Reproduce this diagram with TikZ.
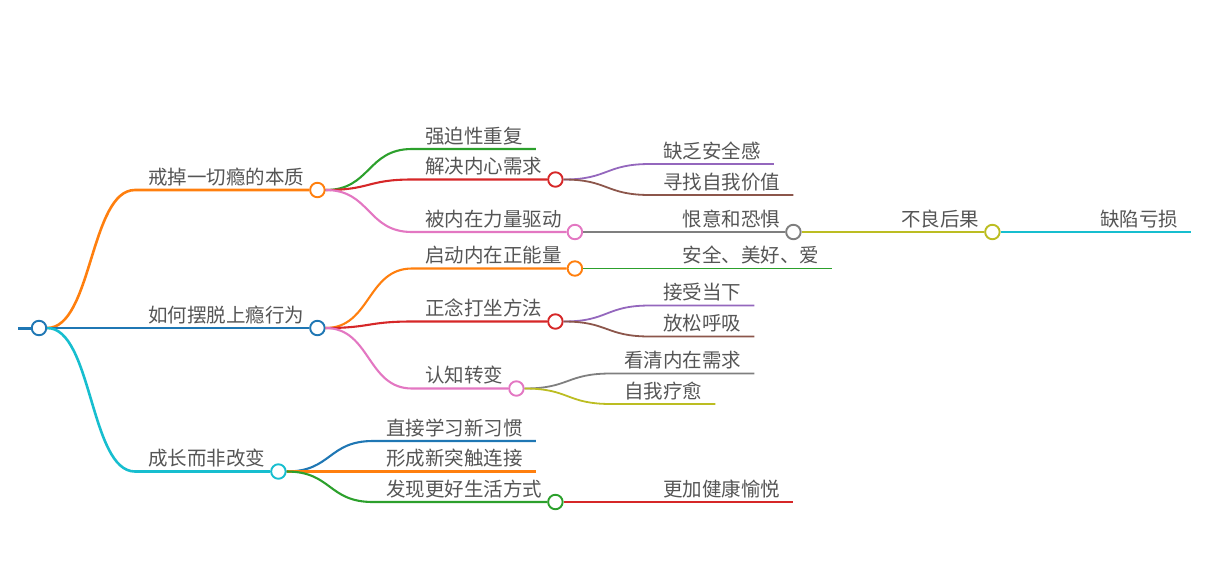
\documentclass[tikz,border=0pt]{standalone}
\usepackage{fontspec}
\newfontfamily\cjk{Noto Sans CJK SC}
\usetikzlibrary{positioning}

\definecolor{mmblue}{HTML}{1F77B4}
\definecolor{mmorange}{HTML}{FF7F0E}
\definecolor{mmgreen}{HTML}{2CA02C}
\definecolor{mmred}{HTML}{D62728}
\definecolor{mmpurple}{HTML}{9467BD}
\definecolor{mmbrown}{HTML}{8C564B}
\definecolor{mmpink}{HTML}{E377C2}
\definecolor{mmgray}{HTML}{7F7F7F}
\definecolor{mmolive}{HTML}{BCBD22}
\definecolor{mmcyan}{HTML}{17BECF}
\definecolor{txtgray}{HTML}{555555}

\begin{document}
\begin{tikzpicture}[
    x=1pt, y=-1pt,
    topic/.style={anchor=south west, inner xsep=13pt, inner ysep=5.5pt, text depth=0pt,
      font=\cjk\fontsize{19.5}{20}\selectfont, text=txtgray},
    knot/.style={circle, draw=#1, fill=white, line width=1.9pt, minimum size=14.5pt, inner sep=0pt},
    lv1/.style={line width=2.6pt},
    lv2/.style={line width=2.1pt},
    lv3/.style={line width=1.8pt}
  ]
    \useasboundingbox (0,0) rectangle (1212,582);

    % 根节点
    \node[knot=mmblue] (root) at (39,328) {};
    \coordinate (stub) at (18,328);

    % 第一层
    \node[topic] (t1a) at (135,190) {戒掉一切瘾的本质};
    \node[topic] (t1b) at (135,328) {如何摆脱上瘾行为};
    \node[topic] (t1c) at (135,471.5) {成长而非改变};
    \node[knot=mmorange] (c1a) at (t1a.south east) {};
    \node[knot=mmblue] (c1b) at (t1b.south east) {};
    \node[knot=mmcyan] (c1c) at (t1c.south east) {};

    % 第二层
    \node[topic] (t2a) at (412,149) {强迫性重复};
    \node[topic] (t2b) at (412,179.5) {解决内心需求};
    \node[topic] (t2c) at (412,232) {被内在力量驱动};
    \node[topic] (t2d) at (412,268.5) {启动内在正能量};
    \node[topic] (t2e) at (412,321.5) {正念打坐方法};
    \node[topic] (t2f) at (412,388.5) {认知转变};
    \node[topic] (t2g) at (373,441) {直接学习新习惯};
    \node[topic] (t2h) at (373,471.5) {形成新突触连接};
    \node[topic] (t2i) at (373,502) {发现更好生活方式};
    \node[knot=mmred] (c2b) at (t2b.south east) {};
    \node[knot=mmpink] (c2c) at (t2c.south east) {};
    \node[knot=mmorange] (c2d) at (t2d.south east) {};
    \node[knot=mmred] (c2e) at (t2e.south east) {};
    \node[knot=mmpink] (c2f) at (t2f.south east) {};
    \node[knot=mmgreen] (c2i) at (t2i.south east) {};

    % 第三层
    \node[topic] (t3a) at (650,164) {缺乏安全感};
    \node[topic] (t3b) at (650,195) {寻找自我价值};
    \node[topic] (t3c) at (669.5,232) {恨意和恐惧};
    \node[topic] (t3d) at (669.5,268.5) {安全、美好、爱};
    \node[topic] (t3e) at (650,305.5) {接受当下};
    \node[topic] (t3f) at (650,336.5) {放松呼吸};
    \node[topic] (t3g) at (611,373.5) {看清内在需求};
    \node[topic] (t3h) at (611,404) {自我疗愈};
    \node[topic] (t3i) at (650,502) {更加健康愉悦};
    \node[knot=mmgray] (c3c) at (t3c.south east) {};

    % 第四、五层
    \node[topic] (t4a) at (888,232) {不良后果};
    \node[knot=mmolive] (c4a) at (t4a.south east) {};
    \node[topic] (t5a) at (1087,232) {缺陷亏损};

    % 连线:根到第一层
    \draw[line width=3pt,mmblue] (stub) -- (root.west);
    \draw[lv1,mmorange] (root.east) .. controls +(45,0) and +(-45,0) .. (t1a.south west) -- (c1a.west);
    \draw[lv1,mmblue] (root.east) .. controls +(45,0) and +(-45,0) .. (t1b.south west) -- (c1b.west);
    \draw[lv1,mmcyan] (root.east) .. controls +(45,0) and +(-45,0) .. (t1c.south west) -- (c1c.west);

    % 连线:第一层到第二层
    \draw[lv2,mmgreen] (c1a.east) .. controls +(45,0) and +(-45,0) .. (t2a.south west) -- (t2a.south east);
    \draw[lv2,mmred] (c1a.east) .. controls +(45,0) and +(-45,0) .. (t2b.south west) -- (c2b.west);
    \draw[lv2,mmpink] (c1a.east) .. controls +(45,0) and +(-45,0) .. (t2c.south west) -- (c2c.west);
    \draw[lv2,mmorange] (c1b.east) .. controls +(45,0) and +(-45,0) .. (t2d.south west) -- (c2d.west);
    \draw[lv2,mmred] (c1b.east) .. controls +(45,0) and +(-45,0) .. (t2e.south west) -- (c2e.west);
    \draw[lv2,mmpink] (c1b.east) .. controls +(45,0) and +(-45,0) .. (t2f.south west) -- (c2f.west);
    \draw[lv2,mmblue] (c1c.east) .. controls +(45,0) and +(-45,0) .. (t2g.south west) -- (t2g.south east);
    \draw[lv2,mmorange] (c1c.east) .. controls +(45,0) and +(-45,0) .. (t2h.south west) -- (t2h.south east);
    \draw[lv2,mmgreen] (c1c.east) .. controls +(45,0) and +(-45,0) .. (t2i.south west) -- (c2i.west);

    % 连线:第二层到第三层
    \draw[lv3,mmpurple] (c2b.east) .. controls +(45,0) and +(-45,0) .. (t3a.south west) -- (t3a.south east);
    \draw[lv3,mmbrown] (c2b.east) .. controls +(45,0) and +(-45,0) .. (t3b.south west) -- (t3b.south east);
    \draw[lv3,mmgray] (c2c.east) -- (t3c.south west) -- (c3c.west);
    \draw[lv3,mmgreen] (c2d.east) -- (t3d.south west) -- (t3d.south east);
    \draw[lv3,mmpurple] (c2e.east) .. controls +(45,0) and +(-45,0) .. (t3e.south west) -- (t3e.south east);
    \draw[lv3,mmbrown] (c2e.east) .. controls +(45,0) and +(-45,0) .. (t3f.south west) -- (t3f.south east);
    \draw[lv3,mmgray] (c2f.east) .. controls +(45,0) and +(-45,0) .. (t3g.south west) -- (t3g.south east);
    \draw[lv3,mmolive] (c2f.east) .. controls +(45,0) and +(-45,0) .. (t3h.south west) -- (t3h.south east);
    \draw[lv3,mmred] (c2i.east) -- (t3i.south west) -- (t3i.south east);

    % 连线:后续层
    \draw[lv3,mmolive] (c3c.east) -- (t4a.south west) -- (c4a.west);
    \draw[lv3,mmcyan] (c4a.east) -- (t5a.south west) -- (t5a.south east);

  \end{tikzpicture}
\end{document}
